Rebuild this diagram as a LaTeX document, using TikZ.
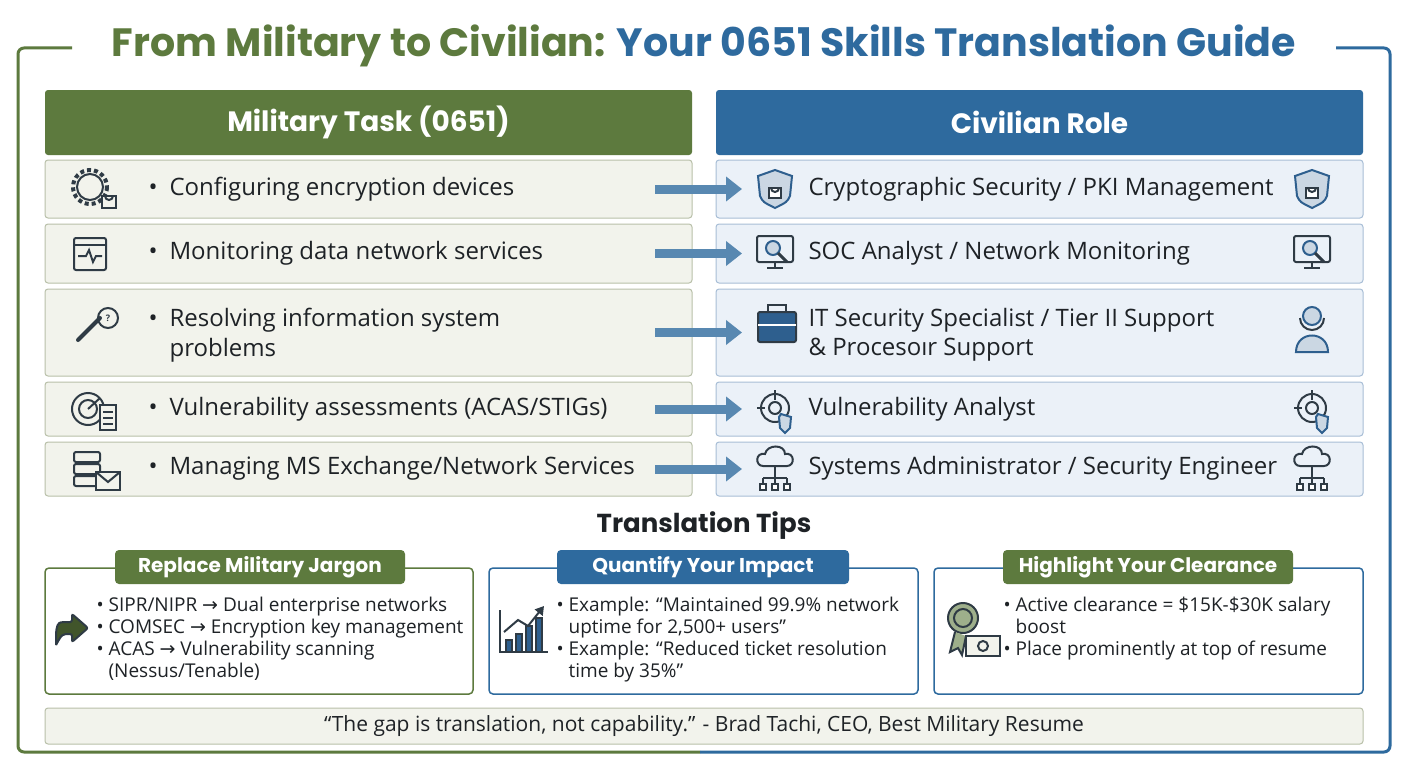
\documentclass[tikz,border=0pt]{standalone}
\usepackage{fontspec}
\setmainfont{Open Sans}
\newfontfamily\headfont{Poppins}
\newfontfamily\symfont{DejaVu Sans}
\newcommand{\rarr}{{\symfont →}}
\usetikzlibrary{arrows.meta,shapes.geometric}
\definecolor{mgreen}{HTML}{5D7A3E}
\definecolor{mblue}{HTML}{2E6A9E}
\definecolor{lgfill}{HTML}{F2F3EC}
\definecolor{lgline}{HTML}{B9C0A9}
\definecolor{lbfill}{HTML}{EBF1F8}
\definecolor{lbline}{HTML}{A8BED6}
\definecolor{ink}{HTML}{1E2226}
\definecolor{icon}{HTML}{2F3B45}
\definecolor{ibl}{HTML}{2E5F8E}
\tikzset{
 lbox/.style={draw=lgline,fill=lgfill,rounded corners=3pt,line width=1pt},
 rbox/.style={draw=lbline,fill=lbfill,rounded corners=3pt,line width=1pt},
 rowtxt/.style={anchor=west,font=\fontsize{24}{29}\selectfont,text=ink,align=left},
 tiptxt/.style={anchor=north west,font=\fontsize{19}{22}\selectfont,text=ink,align=left},
 tab/.style={rounded corners=4pt,text=white,font=\headfont\bfseries\fontsize{20}{22}\selectfont,minimum height=34pt},
 conn/.style={-{Triangle[length=16pt,width=24pt]},line width=9pt,draw=mblue!80},
 ico/.style={draw=icon,line width=2pt},
 icb/.style={draw=ibl,line width=2pt,fill=ibl!25},
}
\begin{document}
\begin{tikzpicture}[x=1pt,y=-1pt]
\useasboundingbox (0,0) rectangle (1408,768);
\fill[white] (0,0) rectangle (1408,768);
% frame
\draw[mgreen,line width=3pt,rounded corners=6pt] (72,48) -- (18,48) -- (18,752) -- (700,752);
\draw[mblue,line width=3pt,rounded corners=6pt] (700,752) -- (1390,752) -- (1390,48) -- (1336,48);
\node (title) at (704,46) {\headfont\bfseries\fontsize{39.5}{44}\selectfont\textcolor{mgreen}{From Military to Civilian:} \textcolor{mblue}{Your 0651 Skills Translation Guide}};
% headers
\node[fill=mgreen,rounded corners=3pt,minimum width=647pt,minimum height=65pt,text=white,font=\headfont\bfseries\fontsize{28}{32}\selectfont] (hl) at (368.5,122.5) {Military Task (0651)};
\node[fill=mblue,rounded corners=3pt,minimum width=647pt,minimum height=65pt,text=white,font=\headfont\bfseries\fontsize{28}{32}\selectfont] (hr) at (1039.5,122.5) {Civilian Role};
% rows
\foreach \n/\ya/\yb in {1/160/218,2/224/283,3/289/376,4/382/436,5/442/496}{
 \draw[lbox] (45,\ya) rectangle (692,\yb);
 \draw[rbox] (716,\ya) rectangle (1363,\yb);
 \coordinate (la\n) at (655,{(\ya+\yb)/2});
 \coordinate (rb\n) at (742,{(\ya+\yb)/2});
}
\foreach \n in {1,...,5}{\draw[conn] (la\n) -- (rb\n);}
\node[rowtxt] (t1) at (145,189) {\textbullet\enspace Configuring encryption devices};
\node[rowtxt] (t2) at (145,253) {\textbullet\enspace Monitoring data network services};
\node[rowtxt] (t3) at (145,320) {\textbullet\enspace Resolving information system};
\node[rowtxt] (t3b) at (145,350) {\phantom{\textbullet\enspace}problems};
\node[rowtxt] (t4) at (145,409) {\textbullet\enspace Vulnerability assessments (ACAS/STIGs)};
\node[rowtxt] (t5) at (145,468) {\textbullet\enspace Managing MS Exchange/Network Services};
\node[rowtxt] (c1) at (805,189) {Cryptographic Security / PKI Management};
\node[rowtxt] (c2) at (805,253) {SOC Analyst / Network Monitoring};
\node[rowtxt] (c3) at (805,320) {IT Security Specialist / Tier II Support};
\node[rowtxt] (c3b) at (805,350) {\& Procesoır Support};
\node[rowtxt] (c4) at (805,409) {Vulnerability Analyst};
\node[rowtxt] (c5) at (805,468) {Systems Administrator / Security Engineer};
% left icons
\draw[ico] (90,187) circle (13); \draw[ico,dash pattern=on 4pt off 3pt,line width=4pt] (90,187) circle (17);
\draw[ico,fill=lgfill] (102,196) rectangle (116,208); \draw[ico] (105,196) arc (180:0:4);
\draw[ico,rounded corners=2pt] (74,238) rectangle (106,270); \draw[ico] (74,245)--(106,245);
\draw[ico] (78,256)--(86,256)--(89,250)--(93,262)--(96,256)--(102,256);
\draw[ico,line width=4pt,line cap=round] (78,340)--(100,318);
\draw[ico] (108,318) circle (10); \node[font=\bfseries\small,text=icon] (q) at (108,318) {?};
\draw[ico] (88,409) circle (16); \draw[ico] (88,409) circle (9); \draw[ico] (88,409)--(100,398);
\draw[ico,fill=lgfill] (100,405) rectangle (116,430);
\foreach \yy in {412,418,424}{\draw[icon,line width=1.5pt] (103,\yy)--(113,\yy);}
\foreach \yy in {452,464,476}{\draw[ico,rounded corners=2pt] (74,\yy) rectangle (100,{\yy+10});}
\draw[ico,fill=lgfill] (96,472) rectangle (120,490); \draw[ico] (96,472)--(108,482)--(120,472);
% right icons
\foreach \x in {775,1312}{
 \draw[icb] (\x,170)--({\x+17},176)--({\x+15},196) .. controls ({\x+12},202) .. (\x,208) .. controls ({\x-12},202) .. ({\x-15},196)--({\x-17},176)--cycle;
 \draw[ico,fill=white] ({\x-6},188) rectangle ({\x+6},198); \draw[ico] ({\x-4},188) arc (180:0:4);
 \draw[ico,rounded corners=2pt] ({\x-18},236) rectangle ({\x+18},262); \draw[ico] (\x,262)--(\x,268); \draw[ico] ({\x-8},268)--({\x+8},268);
 \draw[icb] ({\x-2},248) circle (7); \draw[ico,line width=3pt] ({\x+3},253)--({\x+12},262);
 \draw[ico] (\x,408) circle (14); \draw[ico] (\x,408) circle (6);
 \draw[ico] (\x,390)--(\x,400); \draw[ico] ({\x-18},408)--({\x-10},408);
 \draw[icb] ({\x+6},414)--({\x+16},417)--({\x+15},428)--({\x+10},433)--({\x+5},428)--({\x+4},417)--cycle;
 \draw[ico] ({\x-12},466) .. controls ({\x-20},466) and ({\x-20},452) .. ({\x-10},454) .. controls ({\x-8},444) and ({\x+10},444) .. ({\x+10},454) .. controls ({\x+20},452) and ({\x+20},466) .. ({\x+12},466) -- cycle;
 \draw[ico] (\x,466)--(\x,478); \draw[ico] ({\x-12},478)--({\x+12},478);
 \foreach \dx in {-12,0,12}{\draw[ico] ({\x+\dx},478)--({\x+\dx},484); \draw[ico,fill=white] ({\x+\dx-3},484) rectangle ({\x+\dx+3},490);}
}
\draw[ico,fill=ibl,rounded corners=2pt] (758,312) rectangle (796,342); \draw[ico] (768,312)--(768,305)--(786,305)--(786,312); \draw[white,line width=1.5pt] (758,325)--(796,325);
\draw[icb] (1312,316) circle (9); \draw[icb] (1296,352) .. controls (1296,330) and (1328,330) .. (1328,352) -- cycle;
\draw[ico] (1300,318) arc (180:0:12);
% tips
\node[font=\headfont\bfseries\fontsize{26}{28}\selectfont,text=ink] (tt) at (704,526) {Translation Tips};
\draw[draw=mgreen,line width=1.5pt,rounded corners=4pt] (45,568) rectangle (473,694);
\draw[draw=mblue,line width=1.5pt,rounded corners=4pt] (489,568) rectangle (918,694);
\draw[draw=mblue,line width=1.5pt,rounded corners=4pt] (934,568) rectangle (1363,694);
\node[tab,fill=mgreen,minimum width=290pt] (tab1) at (260,567) {Replace Military Jargon};
\node[tab,fill=mblue,minimum width=292pt] (tab2) at (703,567) {Quantify Your Impact};
\node[tab,fill=mgreen,minimum width=290pt] (tab3) at (1148,567) {Highlight Your Clearance};
\node[tiptxt] (p1) at (93,594) {\textbullet\ SIPR/NIPR \rarr\ Dual enterprise networks\\\textbullet\ COMSEC \rarr\ Encryption key management\\\textbullet\ ACAS \rarr\ Vulnerability scanning\\\phantom{\textbullet\ }(Nessus/Tenable)};
\node[tiptxt] (p2) at (553,594) {\textbullet\ Example: “Maintained 99.9\% network\\\phantom{\textbullet\ }uptime for 2,500+ users”\\\textbullet\ Example: “Reduced ticket resolution\\\phantom{\textbullet\ }time by 35\%”};
\node[tiptxt] (p3) at (1000,594) {\textbullet\ Active clearance = \$15K-\$30K salary\\\phantom{\textbullet\ }boost\\\textbullet\ Place prominently at top of resume};
% tip icons
\draw[ico,fill=mgreen!70!black,rounded corners=2pt] (56,645) -- (56,632) .. controls (58,622) .. (72,622) -- (72,614) -- (88,628) -- (72,642) -- (72,634) .. controls (62,634) .. (56,645);
\draw[ico] (500,610)--(500,652)--(548,652);
\foreach \xx/\hh in {506/12,516/18,526/26,536/34}{\draw[ico,fill=ibl] (\xx,652) rectangle ({\xx+6},{652-\hh});}
\draw[ico,-{Triangle}] (504,632)--(518,620)--(528,626)--(544,606);
\draw[ico,fill=mgreen!60] (963,618) circle (15); \draw[ico] (963,618) circle (9);
\draw[ico,fill=mgreen!60] (955,632)--(950,652)--(958,648)--(962,655)--(966,636);
\draw[ico,fill=lgfill] (966,636) rectangle (1000,656); \draw[ico] (983,646) circle (5);
% quote
\draw[lbox] (45,708) rectangle (1363,744);
\node[font=\fontsize{21}{24}\selectfont,text=ink] (quote) at (704,726) {“The gap is translation, not capability.” - Brad Tachi, CEO, Best Military Resume};
\end{tikzpicture}
\end{document}
